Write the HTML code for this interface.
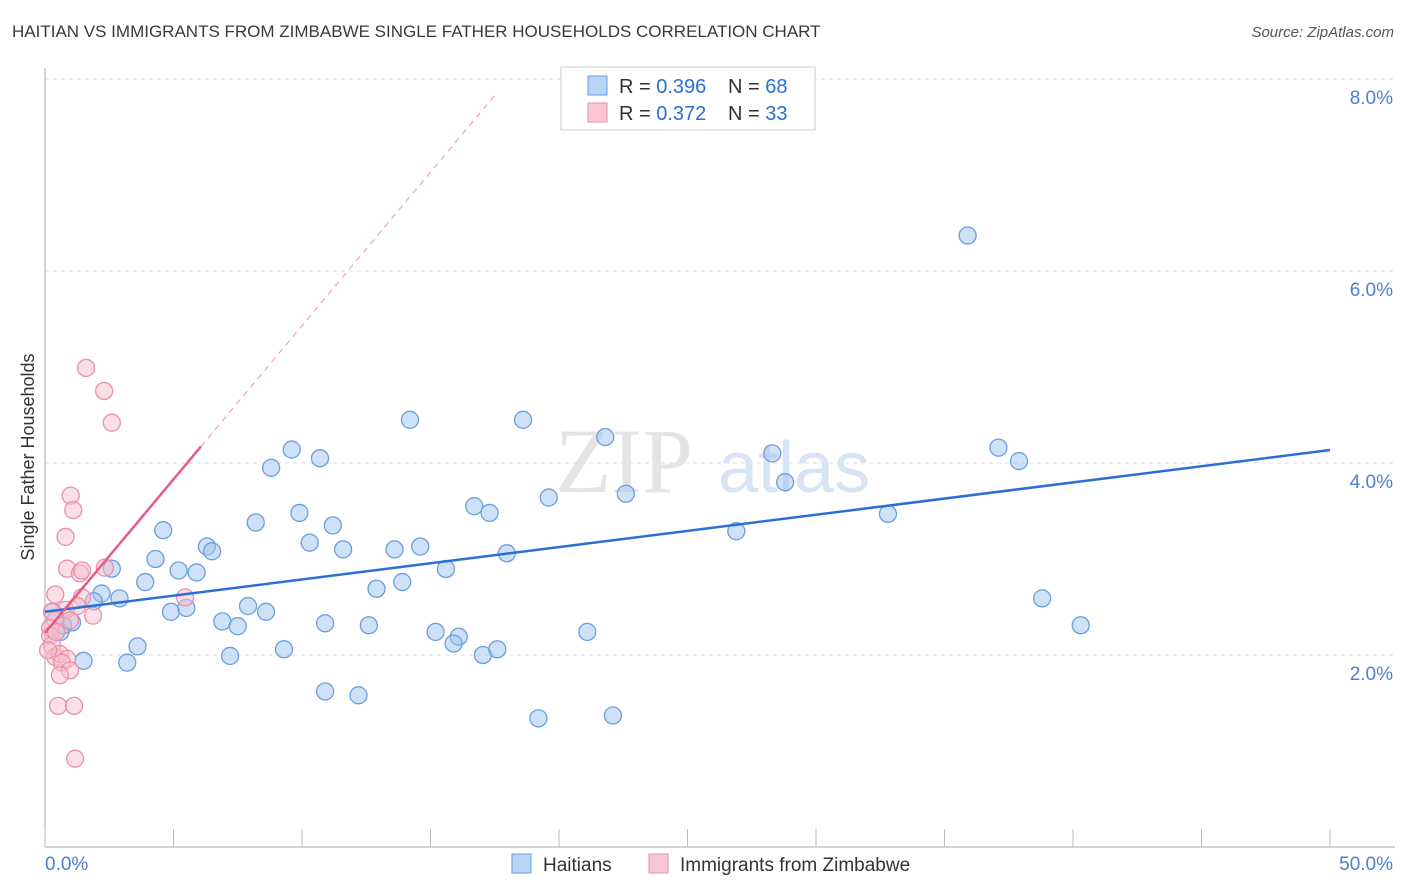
<!DOCTYPE html>
<html><head><meta charset="utf-8">
<style>
body{margin:0;background:#fff;font-family:"Liberation Sans",sans-serif;}
#wrap{position:relative;width:1406px;height:892px;overflow:hidden;}
.t{position:absolute;white-space:nowrap;}
</style></head>
<body>
<div id="wrap">
<div class="t" style="left:12px;top:22px;font-size:17px;color:#3a3a3a;">HAITIAN VS IMMIGRANTS FROM ZIMBABWE SINGLE FATHER HOUSEHOLDS CORRELATION CHART</div>
<div class="t" style="right:12px;top:24px;font-size:15px;color:#555;font-style:italic;">Source: ZipAtlas.com</div>
<svg id="plot" width="1406" height="892" style="position:absolute;left:0;top:0"></svg>
</div>
<script>
const xTicks=[0,5,10,15,20,25,30,35,40,45,50];
const yTicks=[2,4,6,8];
const blueX=[35.9,14.2,18.6,21.8,9.6,8.8,10.7,28.3,37.1,37.9,28.8,22.6,19.6,16.7,17.3,9.9,8.2,11.2,4.6,32.8,26.9,10.3,6.3,6.5,11.6,13.6,14.6,17.97,4.3,5.2,5.9,2.6,15.6,3.9,13.9,12.9,2.2,2.9,1.9,7.9,8.6,4.9,5.5,6.9,7.5,10.9,12.6,38.8,40.3,15.2,16.1,15.9,21.1,3.6,9.3,7.2,17.04,17.6,3.2,1.5,10.9,12.2,19.2,22.1,0.3,0.6,1.05,0.7];
const blueY=[6.37,4.45,4.45,4.27,4.14,3.95,4.05,4.1,4.16,4.02,3.8,3.68,3.64,3.55,3.48,3.48,3.38,3.35,3.3,3.47,3.29,3.17,3.13,3.08,3.1,3.1,3.13,3.06,3.0,2.88,2.86,2.9,2.896,2.76,2.76,2.69,2.64,2.59,2.56,2.51,2.45,2.45,2.49,2.35,2.3,2.33,2.31,2.59,2.31,2.24,2.19,2.12,2.24,2.09,2.06,1.99,2.0,2.06,1.92,1.94,1.62,1.58,1.34,1.37,2.45,2.24,2.34,2.31];
const pinkX=[1.6,2.3,2.6,1.0,1.1,0.8,0.86,1.36,1.44,2.33,5.45,0.4,1.44,0.8,1.25,1.87,0.97,0.4,0.2,0.2,0.27,0.4,0.58,0.86,0.66,0.97,0.58,0.51,1.13,1.17,0.27,0.43,0.12];
const pinkY=[4.99,4.75,4.42,3.66,3.51,3.23,2.9,2.85,2.88,2.91,2.6,2.63,2.6,2.47,2.51,2.41,2.36,2.36,2.28,2.2,2.1,1.98,2.01,1.96,1.92,1.84,1.79,1.47,1.47,0.92,2.45,2.24,2.05];
const blueLine=[2.45,4.135];
const pinkLine=[2.23,0.32];
const R=["0.396","0.372"],N=["68","33"];

const NS="http://www.w3.org/2000/svg";
const svg=document.getElementById('plot');
const X0=45,X1=1330,Ybase=847,PY=96;
const sx=v=>X0+(X1-X0)*v/50, sy=v=>Ybase-v*PY;
function mk(tag,a,p){const e=document.createElementNS(NS,tag);for(const k in a)e.setAttribute(k,a[k]);(p||svg).appendChild(e);return e;}
// grid
yTicks.forEach(t=>{
 const g=mk('line',{x1:X0,x2:1395,y1:sy(t),y2:sy(t),stroke:'#dcdcdc','stroke-dasharray':'4,4'});
 
 
 const l=mk('text',{x:1393,y:sy(t)+25,'text-anchor':'end','font-size':19,fill:'#4a7fd4','font-family':'Liberation Sans'});
 l.textContent=t.toFixed(1)+'%';
 
 
});
const ax=mk('line',{x1:X0,x2:X0,y1:68,y2:Ybase,stroke:'#aaa'});


const xa=mk('line',{x1:X0,x2:1395,y1:Ybase,y2:Ybase,stroke:'#aaa'});


xTicks.forEach(t=>{
 const k=mk('line',{x1:sx(t),x2:sx(t),y1:Ybase-18,y2:Ybase,stroke:'#bbb'});
 
 
});
[[0,'start'],[50,'end']].forEach(([t,an])=>{
 const l=mk('text',{x:t===0?45:1393,y:870,'text-anchor':an,'font-size':19,fill:'#4a7fd4','font-family':'Liberation Sans'});
 l.textContent=t.toFixed(1)+'%';
 
 
});
const yt=mk('text',{x:34,y:457,'text-anchor':'middle','font-size':18,fill:'#333','font-family':'Liberation Sans',transform:'rotate(-90 34 457)'});
yt.textContent='Single Father Households';


// watermark
const wm=mk('text',{x:555,y:492,'font-size':92,fill:'#e4e4e4','font-family':'Liberation Serif'});
wm.textContent='ZIP';


const wm2=mk('text',{x:718,y:492,'font-size':72,fill:'#d8e4f4','font-family':'Liberation Sans'});
wm2.textContent='atlas';


// points
blueX.forEach((x,i)=>{
 const c=mk('circle',{cx:sx(x),cy:sy(blueY[i]),r:8.5,fill:'rgba(160,196,240,0.5)',stroke:'#6a9ee0','stroke-width':1.3});
 
 
});
pinkX.forEach((x,i)=>{
 const c=mk('circle',{cx:sx(x),cy:sy(pinkY[i]),r:8.5,fill:'rgba(248,190,205,0.5)',stroke:'#e890aa','stroke-width':1.3});
 
 
});
// trend lines
const bl=mk('line',{x1:sx(0),y1:sy(blueLine[0]),x2:sx(50),y2:sy(blueLine[1]),stroke:'#2a6fd6','stroke-width':2.5});


const pe=6.07, pd=17.5;
const pl=mk('line',{x1:sx(0),y1:sy(pinkLine[0]),x2:sx(pe),y2:sy(pinkLine[0]+pinkLine[1]*pe),stroke:'#e85a85','stroke-width':2.5});


const pl2=mk('line',{x1:sx(pe),y1:sy(pinkLine[0]+pinkLine[1]*pe),x2:sx(pd),y2:sy(pinkLine[0]+pinkLine[1]*pd),stroke:'#f0a0b8','stroke-width':1.2,'stroke-dasharray':'6,5'});


// legend box
const lb=mk('rect',{x:561,y:67,width:254,height:63,fill:'#fff',stroke:'#ccc'});


[['#b8d4f6','#6a9ee0'],['#f9c6d4','#e890aa']].forEach((c,i)=>{
 const y=76+i*27;
 const r=mk('rect',{x:588,y:y,width:19,height:19,fill:c[0],stroke:c[1]});
 
 
 const t=mk('text',{x:619,y:y+17,'font-size':20,fill:'#333','font-family':'Liberation Sans'});
 t.innerHTML='R = <tspan fill="#2a6fd6">'+R[i]+'</tspan><tspan x="728">N = </tspan><tspan fill="#2a6fd6">'+N[i]+'</tspan>';
 
 
});
// bottom legend
[['#b8d4f6','#6a9ee0','Haitians',512],['#f9c6d4','#e890aa','Immigrants from Zimbabwe',649]].forEach(d=>{
 const r=mk('rect',{x:d[3],y:854,width:19,height:19,fill:d[0],stroke:d[1]});
 
 
 const t=mk('text',{x:d[3]+31,y:871,'font-size':19,fill:'#333','font-family':'Liberation Sans'});
 t.textContent=d[2];
 
 
});
</script>
</body></html>
